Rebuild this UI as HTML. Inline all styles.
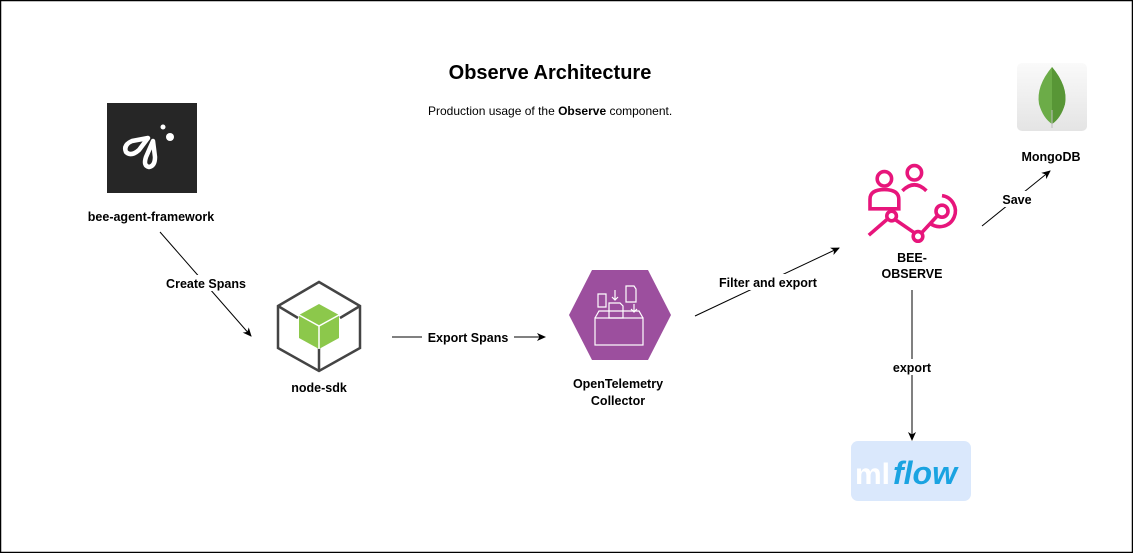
<!DOCTYPE html>
<html><head><style>
html,body{margin:0;padding:0;background:#fff;}
svg{display:block;font-family:"Liberation Sans",Arial,sans-serif;}
.l{font-size:12.5px;font-weight:bold;fill:#000;text-anchor:middle;}
.bg{fill:#fff;}
</style></head><body>
<svg width="1133" height="553" viewBox="0 0 1133 553" xmlns="http://www.w3.org/2000/svg">
<defs>
<marker id="a" markerWidth="10" markerHeight="10" refX="8" refY="5" orient="auto" markerUnits="userSpaceOnUse">
<path d="M0,1 L9,5 L0,9 L2.5,5 Z" fill="#000"/>
</marker>
<linearGradient id="mg" x1="0" y1="0" x2="0" y2="1"><stop offset="0" stop-color="#fafafa"/><stop offset="1" stop-color="#e4e4e4"/></linearGradient>
</defs>
<rect x="0.5" y="0.5" width="1132" height="552" fill="#fff" stroke="#000" stroke-width="1.5"/>
<text x="550" y="79" font-size="20" font-weight="bold" text-anchor="middle">Observe Architecture</text>
<text x="428" y="115" font-size="12">Production usage of the <tspan font-weight="bold">Observe</tspan> component.</text>

<!-- bee logo -->
<rect x="107" y="103" width="90" height="90" fill="#262626"/>
<g fill="none" stroke="#fff" stroke-width="4.5" stroke-linecap="round" stroke-linejoin="round">
<path d="M148,138 L132,141 Q123,145 126,152 Q131,157 139,150 Z"/>
<path d="M153,141 L146,157 Q143,166 149,167 Q155,166 155,157 Z"/>
</g>
<circle cx="163" cy="127" r="2.5" fill="#fff"/><circle cx="170" cy="137" r="4" fill="#fff"/>
<text class="l" x="151" y="221">bee-agent-framework</text>

<!-- create spans -->
<line x1="160" y1="232" x2="251" y2="336" stroke="#000" marker-end="url(#a)"/>
<rect x="160" y="275" width="92" height="16" class="bg"/>
<text class="l" x="206" y="288">Create Spans</text>

<!-- node-sdk cube -->
<g fill="none" stroke="#444" stroke-width="2.5">
<path d="M319,282 L360,306 L360,348 L319,371 L278,348 L278,306 Z"/>
<path d="M278,306 L298,318 M360,306 L340,318 M319,371 L319,348"/>
</g>
<path d="M319,304 L339,315 L339,338 L319,349 L299,338 L299,315 Z" fill="#8cc84b"/>
<path d="M299,315 L319,326 L339,315 M319,326 L319,349" stroke="#fff" stroke-width="1.5" fill="none"/>
<text class="l" x="319" y="392">node-sdk</text>

<!-- export spans -->
<line x1="392" y1="337" x2="545" y2="337" stroke="#000" marker-end="url(#a)"/>
<rect x="422" y="329" width="92" height="16" class="bg"/>
<text class="l" x="468" y="342">Export Spans</text>

<!-- collector -->
<path d="M592,270 L648,270 L671,315 L648,360 L592,360 L569,315 Z" fill="#9c4f9e"/>
<g fill="none" stroke="#fff" stroke-width="1.2">
<rect x="595" y="318" width="48" height="27"/>
<path d="M595,318 L599,311 L639,311 L643,318"/>
<path d="M609,303 L620,303 L623,306 L623,318 L609,318 Z"/>
<path d="M598,294 L606,294 L606,307 L598,307 Z"/>
<path d="M626,286 L634,286 L636,289 L636,302 L626,302 Z"/>
<path d="M615,290 L615,300 M612,297 L615,300 L618,297 M634,304 L634,312 M631,309 L634,312 L637,309"/>
</g>
<text class="l" x="618" y="388">OpenTelemetry</text>
<text class="l" x="618" y="405">Collector</text>

<!-- filter and export -->
<line x1="695" y1="316" x2="839" y2="248" stroke="#000" marker-end="url(#a)"/>
<rect x="712" y="274" width="112" height="16" class="bg"/>
<text class="l" x="768" y="287">Filter and export</text>

<!-- bee-observe icon -->
<g fill="none" stroke="#e7157b" stroke-width="3" transform="translate(912,204) scale(1.2) translate(-910,-204)">
<circle cx="887" cy="183" r="6"/>
<path d="M875,208 L875,200 Q875,192 887,192 Q899,192 899,200 L899,208 Z"/>
<circle cx="912" cy="178" r="6"/>
<path d="M902,193 Q912,183 922,193"/>
<circle cx="893" cy="214" r="4"/>
<circle cx="915" cy="231" r="4"/>
<circle cx="935" cy="210" r="5"/>
<path d="M935,197 A13,13 0 1,1 925,220"/>
<path d="M874,230 L889,217 M896,217 L912,228 M918,228 L931,214"/>
</g>
<text class="l" x="912" y="262">BEE-</text>
<text class="l" x="912" y="278">OBSERVE</text>

<!-- export to mlflow -->
<line x1="912" y1="290" x2="912" y2="440" stroke="#000" marker-end="url(#a)"/>
<rect x="888" y="359" width="48" height="16" class="bg"/>
<text class="l" x="912" y="372">export</text>
<rect x="851" y="441" width="120" height="60" rx="7" fill="#dae8fc"/>
<text x="855" y="484" font-size="30" fill="#fff" font-weight="bold">ml</text>
<text x="893" y="484" font-size="32" fill="#1aa3e1" font-style="italic" font-weight="bold">flow</text>

<!-- save -->
<line x1="982" y1="226" x2="1050" y2="171" stroke="#000" marker-end="url(#a)"/>
<rect x="998" y="191" width="38" height="16" class="bg"/>
<text class="l" x="1017" y="204">Save</text>

<!-- mongodb -->
<rect x="1017" y="63" width="70" height="68" rx="5" fill="url(#mg)"/>
<path d="M1052,67 Q1068,86 1065,104 Q1061,118 1052,124 Q1043,118 1039,104 Q1036,86 1052,67 Z" fill="#6cac48"/>
<path d="M1052,67 Q1068,86 1065,104 Q1061,118 1052,124 Z" fill="#589636"/>
<line x1="1052" y1="110" x2="1052" y2="128" stroke="#bbb" stroke-width="1"/>
<text class="l" x="1051" y="161">MongoDB</text>
</svg>
</body></html>
